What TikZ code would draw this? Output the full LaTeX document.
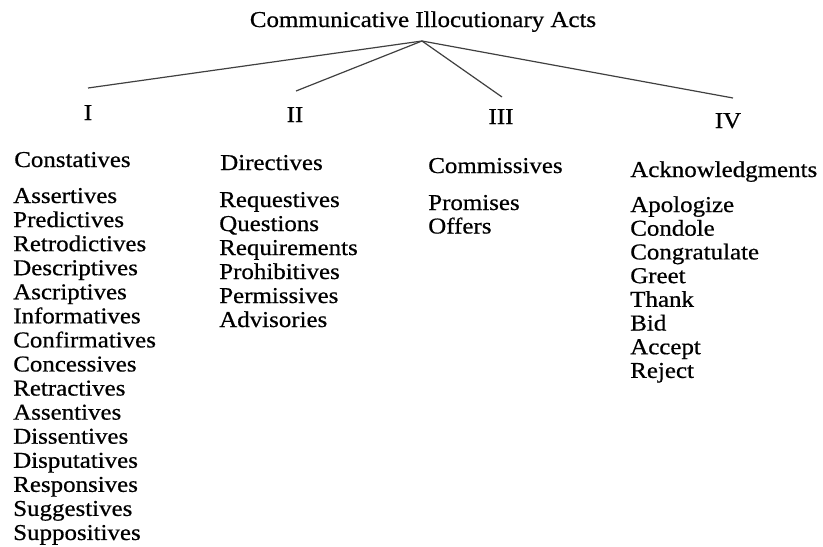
\documentclass[tikz,border=0pt]{standalone}
\usepackage{fontspec}
\setmainfont[FakeStretch=1.1,FakeBold=0.6]{Liberation Serif}
\begin{document}
\begin{tikzpicture}[x=0.75pt,y=-0.75pt,
  txt/.style={inner sep=0pt, text=black, font=\fontsize{17}{18}\selectfont},
  lbl/.style={txt, anchor=base west},
  num/.style={txt, anchor=base},
  branch/.style={draw=black!75, line width=0.9pt}]
\useasboundingbox (0,0) rectangle (823,546);
% title
\node[num] (title) at (423,27) {Communicative Illocutionary Acts};
\coordinate (apex) at (422,41);
% roman numerals
\node[num] (nI)   at (88,120)  {I};
\node[num] (nII)  at (295,122) {II};
\node[num] (nIII) at (501,124) {III};
\node[num] (nIV)  at (728,128) {IV};
\coordinate (eI)   at (88,88);
\coordinate (eII)  at (296,91);
\coordinate (eIII) at (502,97);
\coordinate (eIV)  at (733,98);
\draw[branch] (apex) -- (eI);
\draw[branch] (apex) -- (eII);
\draw[branch] (apex) -- (eIII);
\draw[branch] (apex) -- (eIV);
% headings
\node[lbl] (hI)   at (14,167)  {Constatives};
\node[lbl] (hII)  at (220,170) {Directives};
\node[lbl] (hIII) at (428,173) {Commissives};
\node[lbl] (hIV)  at (630,177) {Acknowledgments};
% column I
\foreach \t [count=\i] in {Assertives,Predictives,Retrodictives,Descriptives,Ascriptives,Informatives,Confirmatives,Concessives,Retractives,Assentives,Dissentives,Disputatives,Responsives,Suggestives,Suppositives}
  \node[lbl] (a\i) at (13,{203+24.07*(\i-1)}) {\t};
% column II
\foreach \t [count=\i] in {Requestives,Questions,Requirements,Prohibitives,Permissives,Advisories}
  \node[lbl] (b\i) at (219,{207+24*(\i-1)}) {\t};
% column III
\foreach \t [count=\i] in {Promises,Offers}
  \node[lbl] (c\i) at (428,{210+23.5*(\i-1)}) {\t};
% column IV
\foreach \t [count=\i] in {Apologize,Condole,Congratulate,Greet,Thank,Bid,Accept,Reject}
  \node[lbl] (d\i) at (630,{212+23.7*(\i-1)}) {\t};
\end{tikzpicture}
\end{document}
